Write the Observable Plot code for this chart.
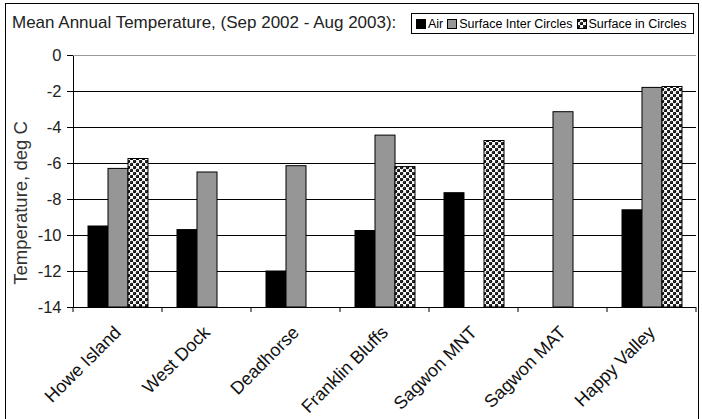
<!DOCTYPE html>
<html>
<head>
<meta charset="utf-8">
<script src="https://cdn.jsdelivr.net/npm/d3@7"></script>
<script src="https://cdn.jsdelivr.net/npm/@observablehq/plot@0.6"></script>
<style>
  html, body { margin: 0; padding: 0; background: #fff; }
  #wrap { position: relative; width: 702px; height: 419px; overflow: hidden; font-family: "Liberation Sans", Arial, sans-serif; }
  #border { position: absolute; left: 5px; top: 3px; width: 692px; height: 430px; border: 1px solid #000; pointer-events: none; }
  #title { position: absolute; left: 12px; top: 13px; font-size: 17px; color: #222; white-space: nowrap; }
  #legend { position: absolute; left: 411px; top: 13px; width: 283px; height: 21px; border: 1px solid #000; font-size: 12.5px; color: #000; display: flex; align-items: center; padding-left: 4px; box-sizing: border-box; white-space: nowrap; }
  #legend .item { display: inline-flex; align-items: center; margin-right: 4px; }
  #legend svg { margin-right: 2px; }
  #ylabel { position: absolute; left: 21px; top: 203px; transform: translate(-50%, -50%) rotate(-90deg); font-size: 18.5px; color: #333; white-space: nowrap; }
  #chart { position: absolute; left: 0; top: 40px; }
  #chart g[aria-label="y-axis tick label"] { font-size: 16.5px; fill: #222; }
  #chart g[aria-label="fx-axis tick label"] { font-size: 18px; fill: #111; }
</style>
</head>
<body>
<svg width="0" height="0" style="position:absolute">
  <defs>
    <pattern id="chk" width="6" height="6" patternUnits="userSpaceOnUse">
      <rect width="6" height="6" fill="#fff"></rect>
      <circle cx="1.5" cy="1.5" r="1.7" fill="#000"></circle>
      <circle cx="4.5" cy="4.5" r="1.7" fill="#000"></circle>
      <circle cx="1.1" cy="1.1" r="0.5" fill="#bbb"></circle>
      <circle cx="4.1" cy="4.1" r="0.5" fill="#bbb"></circle>
    </pattern>
  </defs>
</svg>
<div id="wrap">
  <div id="title">Mean Annual Temperature, (Sep 2002 - Aug 2003):</div>
  <div id="legend"></div>
  <div id="chart"></div>
  <div id="ylabel">Temperature, deg C</div>
  <div id="border"></div>
</div>
<script>
const sites = ["Howe Island", "West Dock", "Deadhorse", "Franklin Bluffs", "Sagwon MNT", "Sagwon MAT", "Happy Valley"];
const seriesNames = ["Air", "Surface Inter Circles", "Surface in Circles"];
const air = [-9.5, -9.7, -12.0, -9.75, -7.65, null, -8.6];
const interCircles = [-6.3, -6.5, -6.15, -4.45, null, -3.15, -1.8];
const inCircles = [-5.75, null, null, -6.2, -4.75, null, -1.75];
const yTicks = [0, -2, -4, -6, -8, -10, -12, -14];
const gridValues = [-2, -4, -6, -8, -10, -12];
const seriesColors = ["#000", "#969696", "url(#chk)"];

const rows = [];
sites.forEach((s, i) => {
  [air, interCircles, inCircles].forEach((arr, j) => {
    if (arr[i] != null) rows.push({site: s, series: seriesNames[j], value: arr[i]});
  });
});

// legend
const legend = document.getElementById("legend");
seriesNames.forEach((name, j) => {
  const item = document.createElement("span");
  item.className = "item";
  item.innerHTML = `<svg width="10" height="10"><rect x="0.5" y="0.5" width="9" height="9" fill="${seriesColors[j]}" stroke="#000"></rect></svg>${name}`;
  legend.appendChild(item);
});

const plot = Plot.plot({
  width: 702,
  height: 379,
  marginLeft: 72,
  marginRight: 5,
  marginTop: 15,
  marginBottom: 112,
  style: {fontFamily: "'Liberation Sans', Arial, sans-serif", fontSize: "16px", color: "#000", background: "transparent"},
  fx: {domain: sites, padding: 0, label: null, tickRotate: -45, tickSize: 0, tickPadding: 22},
  x: {domain: seriesNames, axis: null, paddingInner: 0, paddingOuter: 0.625},
  y: {domain: [-14, 0], ticks: yTicks, tickSize: 6, tickPadding: 6, line: true,
      label: null, tickFormat: d => String(d)},
  color: {domain: seriesNames, range: seriesColors},
  marks: [
    Plot.ruleY(gridValues, {stroke: "#000", strokeWidth: 1}),
    Plot.ruleY([0], {stroke: "#999", strokeWidth: 1}),
    Plot.barY(rows, {fx: "site", x: "series", y1: -14, y2: "value", fill: "series", stroke: "#000", strokeWidth: 1}),
    Plot.ruleY([-14], {stroke: "#000", strokeWidth: 1})
  ]
});
document.getElementById("chart").appendChild(plot);

// category boundary tick marks below the axis
const fxs = plot.scale("fx");
const ys = plot.scale("y");
const yb = ys.apply(-14);
const bounds = sites.map(s => fxs.apply(s));
bounds.push(fxs.apply(sites[sites.length - 1]) + fxs.bandwidth);
const ns = "http://www.w3.org/2000/svg";
const g = document.createElementNS(ns, "g");
bounds.forEach(x => {
  const l = document.createElementNS(ns, "line");
  l.setAttribute("x1", x); l.setAttribute("x2", x);
  l.setAttribute("y1", yb); l.setAttribute("y2", yb + 5);
  l.setAttribute("stroke", "#000");
  g.appendChild(l);
});
plot.appendChild(g);
</script>
</body>
</html>
